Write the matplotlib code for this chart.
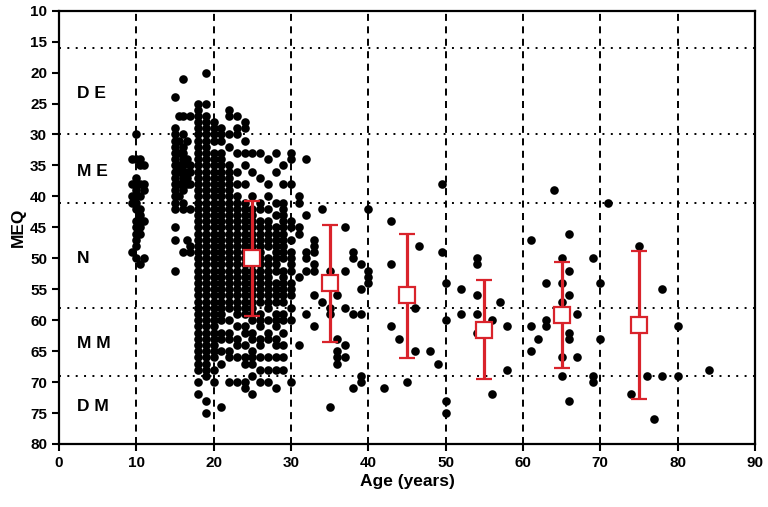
import matplotlib
matplotlib.use("Agg")
import matplotlib.pyplot as plt

plt.rcParams['font.family'] = ['Liberation Sans', 'DejaVu Sans']
plt.rcParams['font.weight'] = 'bold'

# ---------------- data ----------------
# dense columns: age -> MEQ values
meq_9_5 = [34, 38, 40, 41, 49]
meq_10 = [30, 34, 37, 38, 39, 40, 41, 42, 44, 45, 46, 47, 48, 50]
meq_10_5 = [34, 35, 38, 40, 42, 43, 44, 45, 46, 51]
meq_11 = [35, 38, 39, 44, 50]
meq_15 = [24, 29, 30, 31, 32, 33, 34, 35, 36, 37, 38, 39, 40, 41, 42, 45, 47, 52]
meq_15_5 = [27, 31, 33, 35, 36, 38, 40]
meq_16 = [21, 27, 30, 32, 33, 34, 35, 36, 37, 38, 39, 41, 42, 49]
meq_16_5 = [31, 34, 36, 37, 38, 47]
meq_17 = [27, 35, 36, 38, 42, 48, 49]
meq_18 = [25, 26, 27, 28, 29, 30, 31, 32, 33, 34, 35, 36, 37, 38, 39, 40, 41, 42, 43,
          44, 45, 46, 47, 48, 49, 50, 51, 52, 53, 54, 55, 56, 57, 58, 59, 60, 61, 62,
          63, 64, 65, 66, 67, 68, 70, 72]
meq_19 = [20, 25, 27, 28, 29, 30, 31, 32, 33, 34, 35, 36, 37, 38, 39, 40, 41, 42, 43,
          44, 45, 46, 47, 48, 49, 50, 51, 52, 53, 54, 55, 56, 57, 58, 59, 60, 61, 62,
          63, 64, 65, 66, 67, 68, 69, 73, 75]
meq_20 = [28, 29, 30, 31, 33, 34, 35, 36, 37, 38, 39, 40, 41, 42, 43, 44, 45, 46, 47,
          48, 49, 50, 51, 52, 53, 54, 55, 56, 57, 58, 59, 60, 61, 62, 63, 64, 65, 66,
          68, 70]
meq_21 = [29, 30, 31, 33, 34, 35, 36, 37, 38, 39, 40, 41, 42, 43, 44, 45, 46, 47, 48,
          49, 50, 51, 52, 53, 54, 55, 56, 57, 58, 59, 60, 62, 63, 65, 67, 74]
meq_22 = [26, 27, 30, 32, 35, 36, 37, 38, 39, 40, 41, 42, 43, 44, 45, 46, 47, 48, 49,
          50, 51, 52, 53, 54, 55, 56, 57, 58, 60, 62, 63, 65, 66, 70]
meq_23 = [27, 29, 30, 33, 36, 38, 40, 41, 42, 43, 44, 45, 46, 47, 48, 49, 50, 51, 52,
          53, 54, 55, 56, 57, 58, 59, 61, 63, 64, 66, 70]
meq_24 = [28, 29, 31, 33, 35, 38, 41, 42, 43, 44, 45, 46, 47, 48, 49, 50, 51, 52, 53,
          54, 55, 56, 57, 58, 59, 61, 62, 64, 66, 67, 70, 71]
meq_25 = [33, 36, 40, 42, 43, 44, 45, 46, 47, 48, 49, 50, 51, 52, 53, 54, 55, 56, 57,
          58, 59, 60, 62, 63, 65, 66, 67, 69, 72]
meq_26 = [33, 37, 41, 42, 44, 45, 46, 47, 48, 49, 50, 51, 52, 53, 54, 55, 56, 57, 59,
          60, 61, 63, 64, 66, 68, 70]
meq_27 = [34, 38, 40, 42, 44, 45, 46, 47, 48, 50, 51, 52, 53, 54, 55, 56, 57, 58, 60,
          62, 63, 66, 68, 70]
meq_28 = [33, 36, 41, 43, 45, 46, 47, 48, 49, 50, 51, 52, 54, 55, 56, 57, 59, 60, 61,
          63, 64, 66, 68, 71]
meq_29 = [35, 38, 41, 42, 43, 44, 45, 46, 47, 48, 49, 50, 52, 53, 54, 55, 56, 57, 59,
          60, 62, 64, 66, 68]
meq_30 = [33, 34, 38, 44, 45, 47, 49, 50, 51, 52, 54, 55, 56, 58, 60, 70]

column_ages = [9.5, 10, 10.5, 11, 15, 15.5, 16, 16.5, 17, 18, 19, 20, 21, 22, 23, 24,
               25, 26, 27, 28, 29, 30]
column_meqs = [meq_9_5, meq_10, meq_10_5, meq_11, meq_15, meq_15_5, meq_16, meq_16_5,
               meq_17, meq_18, meq_19, meq_20, meq_21, meq_22, meq_23, meq_24, meq_25,
               meq_26, meq_27, meq_28, meq_29, meq_30]

# sparse individual points (age, MEQ)
sparse_age = [31, 31, 31, 31, 31, 31, 32, 32, 32, 32, 32, 32, 33, 33, 33, 33, 33, 33, 33,
              34, 34, 35, 35, 35, 35, 36, 36, 36, 36, 36, 37, 37, 37, 37, 37,
              38, 38, 38, 38, 39, 39, 39, 39, 39, 40, 40, 40, 40, 42, 43, 43, 43, 44,
              45, 46, 46, 46.5, 48, 49, 49.5, 49.5, 50, 50, 50, 50, 52, 52,
              54, 54, 54, 54, 54, 56, 56, 57, 58, 58, 61, 61, 61, 62, 63, 63, 63, 64,
              65, 65, 65, 65, 65, 66, 66, 66, 66, 66, 66, 67, 67, 69, 69, 69, 70, 70,
              71, 74, 75, 76, 77, 78, 78, 80, 80, 84]
sparse_meq = [40, 41, 45, 46, 53, 64, 34, 43, 49, 50, 52, 59, 47, 48, 49, 51, 52, 56, 61,
              42, 57, 52, 58, 59, 74, 56, 63, 65, 66, 67, 45, 52, 58, 64, 66,
              49, 50, 59, 71, 51, 55, 59, 69, 70, 42, 52, 53, 54, 71, 44, 51, 61, 63,
              70, 58, 65, 48, 65, 67, 38, 49, 54, 60, 73, 75, 55, 59,
              50, 51, 56, 59, 62, 60, 72, 57, 61, 68, 47, 61, 65, 63, 54, 60, 61, 39,
              50, 54, 57, 66, 69, 46, 52, 56, 62, 63, 73, 59, 66, 50, 69, 70, 54, 63,
              41, 72, 48, 69, 76, 55, 69, 61, 69, 68]

# group means and SD bars
group_age = [25, 35, 45, 55, 65, 75]
group_mean = [50.0, 54.0, 56.0, 61.6, 59.2, 60.8]
group_low = [40.8, 44.6, 46.0, 53.5, 50.6, 48.8]
group_high = [59.3, 63.5, 66.1, 69.5, 67.7, 72.7]

chrono_bounds = [16, 30, 41, 58, 69]
chrono_labels = ["D E", "M E", "N", "M M", "D M"]
chrono_label_y = [23.3, 36.0, 50.0, 63.8, 74.0]

# ---------------- figure ----------------
fig = plt.figure(figsize=(7.68, 5.07), dpi=100)
ax = fig.add_axes([0.0768, 0.1243, 0.9062, 0.8546])

for xv in range(10, 90, 10):
    ax.axvline(xv, color='black', lw=1.4, linestyle=(0, (3.6, 2.8)), zorder=1)
for yv in chrono_bounds:
    ax.axhline(yv, color='black', lw=1.4, linestyle=(0, (1, 3.3)), zorder=1)

xs, ys = [], []
for a, vals in zip(column_ages, column_meqs):
    for v in vals:
        xs.append(a)
        ys.append(v)
xs += sparse_age
ys += sparse_meq
ax.plot(xs, ys, 'o', color='black', markersize=6.2, markeredgewidth=0, zorder=2)

red = '#d9232b'
yerr = [[m - lo for m, lo in zip(group_mean, group_low)],
        [hi - m for m, hi in zip(group_mean, group_high)]]
ax.errorbar(group_age, group_mean, yerr=yerr, fmt='s', color=red, ecolor=red,
            elinewidth=2.3, capsize=6, capthick=2.3, markersize=11.5,
            markerfacecolor='white', markeredgecolor=red, markeredgewidth=1.6,
            zorder=3)

for lab, yv in zip(chrono_labels, chrono_label_y):
    ax.text(2.3, yv, lab, fontsize=12.5, fontweight='bold', ha='left', va='center')

ax.set_xlim(0, 90)
ax.set_ylim(80, 10)
ax.set_xticks(range(0, 91, 10))
ax.set_yticks(range(10, 81, 5))
ax.tick_params(axis='both', direction='out', length=5, width=1.5, labelsize=11,
               top=False, right=False)
for lab in ax.get_xticklabels() + ax.get_yticklabels():
    lab.set_fontweight('bold')
for sp in ax.spines.values():
    sp.set_linewidth(1.6)

ax.set_xlabel('Age (years)', fontsize=12.5, fontweight='bold', labelpad=3)
ax.set_ylabel('MEQ', fontsize=12.5, fontweight='bold', labelpad=3)

fig.savefig('out.png', dpi=100)
